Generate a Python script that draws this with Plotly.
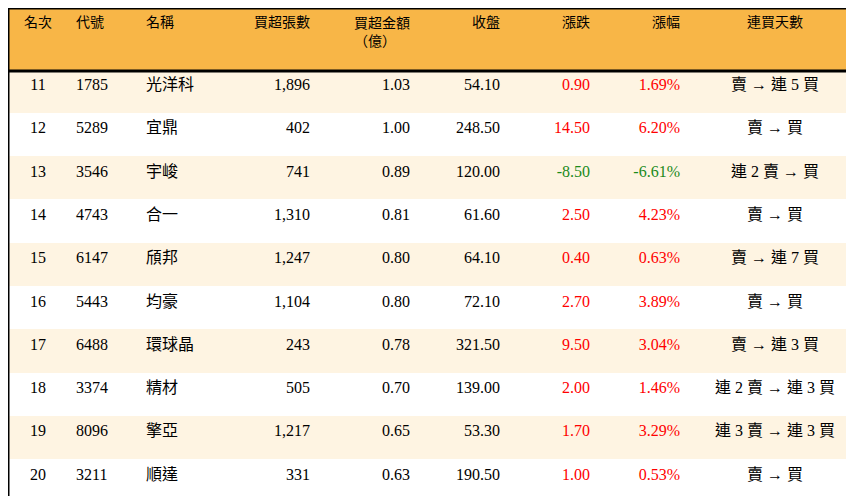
import plotly.graph_objects as go

headers = ['名次', '代號', '名稱', '買超張數', '買超金額<br>（億）', '收盤', '漲跌', '漲幅', '連買天數']
rank = ['11', '12', '13', '14', '15', '16', '17', '18', '19', '20']
code = ['1785', '5289', '3546', '4743', '6147', '5443', '6488', '3374', '8096', '3211']
name = ['光洋科', '宜鼎', '宇峻', '合一', '頎邦', '均豪', '環球晶', '精材', '擎亞', '順達']
lots = ['1,896', '402', '741', '1,310', '1,247', '1,104', '243', '505', '1,217', '331']
amount = ['1.03', '1.00', '0.89', '0.81', '0.80', '0.80', '0.78', '0.70', '0.65', '0.63']
close = ['54.10', '248.50', '120.00', '61.60', '64.10', '72.10', '321.50', '139.00', '53.30', '190.50']
change = [0.90, 14.50, -8.50, 2.50, 0.40, 2.70, 9.50, 2.00, 1.70, 1.00]
pct = [1.69, 6.20, -6.61, 4.23, 0.63, 3.89, 3.04, 1.46, 3.29, 0.53]
streak = ['賣 → 連 5 買', '賣 → 買', '連 2 賣 → 買', '賣 → 買', '賣 → 連 7 買',
          '賣 → 買', '賣 → 連 3 買', '連 2 賣 → 連 3 買', '連 3 賣 → 連 3 買', '賣 → 買']

chg_col = ['#1a8a1a' if v < 0 else '#ff0000' for v in change]
fills = ['#fef4e2' if i % 2 == 0 else '#ffffff' for i in range(len(rank))]
font = 'Liberation Serif, Noto Sans CJK TC'
aligns = ['center', 'left', 'left', 'right', 'right', 'right', 'right', 'right', 'center']

fig = go.Figure(go.Table(
    domain=dict(x=[0, 1], y=[0, 1]),
    columnwidth=[60, 70, 80, 100, 100, 90, 90, 90, 174],
    header=dict(
        values=headers,
        fill_color='#f8b647', line_color='#f8b647', height=62,
        align=aligns,
        font=dict(family=font, size=14, color='black'),
    ),
    cells=dict(
        values=[rank, code, name, lots, amount, close,
                ['%.2f' % v for v in change], ['%.2f%%' % v for v in pct], streak],
        fill_color=[fills] * 9, line_color=[fills] * 9, height=43.3,
        align=aligns,
        font=dict(family=font, size=16,
                  color=['black'] * 6 + [chg_col, chg_col, 'black']),
    ),
))

fig.update_layout(
    width=854, height=496, margin=dict(l=0, r=0, t=0, b=0),
    paper_bgcolor='white',
    shapes=[
        dict(type='line', xref='paper', yref='paper', x0=0, x1=1,
             y0=1 - 63 / 496, y1=1 - 63 / 496, line=dict(color='black', width=3)),
        dict(type='rect', xref='paper', yref='paper', x0=0, x1=1, y0=0, y1=1,
             line=dict(color='black', width=3)),
    ],
)

fig.write_html('out.html')
